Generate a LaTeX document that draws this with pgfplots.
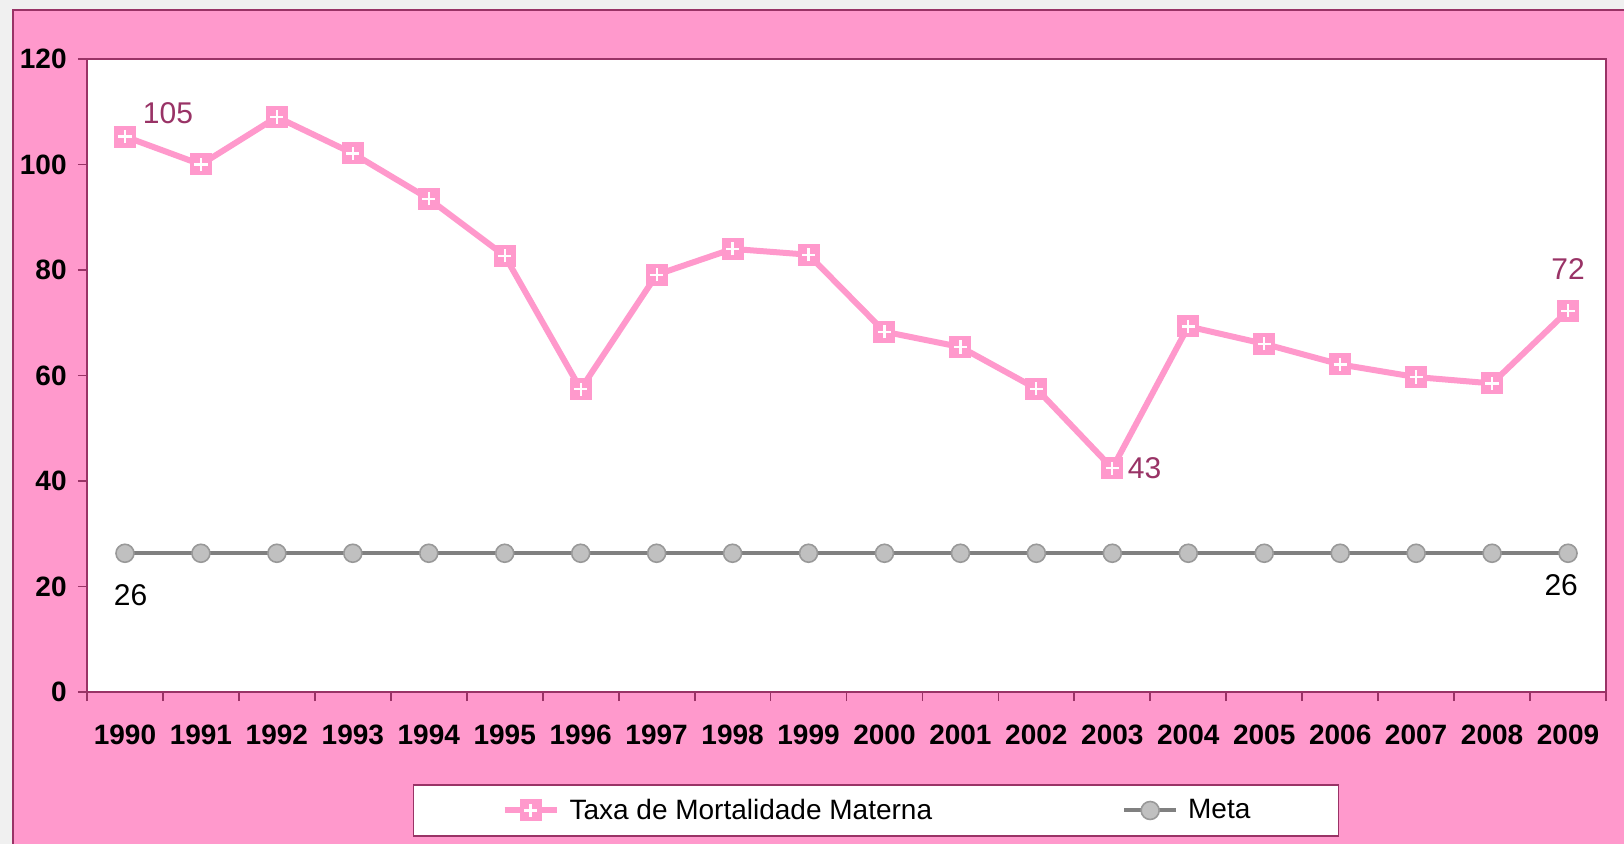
\documentclass[border=0pt]{standalone}
\usepackage{pgfplots}
\pgfplotsset{compat=1.18}
\usepackage{fontspec}
\setmainfont{Liberation Sans}
\definecolor{mpink}{HTML}{FF99CC}
\definecolor{mdark}{HTML}{993366}
\definecolor{bggray}{HTML}{F0F0F0}
\definecolor{mgrayline}{HTML}{808080}
\definecolor{mgrayfill}{HTML}{C0C0C0}
\pgfdeclareplotmark{sqplus}{%
  \pgfpathrectangle{\pgfpoint{-\pgfplotmarksize}{-\pgfplotmarksize}}{\pgfpoint{2\pgfplotmarksize}{2\pgfplotmarksize}}%
  \pgfsetfillcolor{mpink}\pgfusepath{fill}%
  \pgfsetstrokecolor{white}\pgfsetlinewidth{1.1bp}%
  \pgfpathmoveto{\pgfpoint{-0.6\pgfplotmarksize}{0pt}}\pgfpathlineto{\pgfpoint{0.6\pgfplotmarksize}{0pt}}%
  \pgfpathmoveto{\pgfpoint{0pt}{-0.6\pgfplotmarksize}}\pgfpathlineto{\pgfpoint{0pt}{0.6\pgfplotmarksize}}%
  \pgfusepath{stroke}}
\begin{document}
\begin{tikzpicture}
\useasboundingbox (-43.5bp,-76bp) rectangle (768.5bp,346bp);
\fill[bggray] (-43.5bp,-76bp) rectangle (768.5bp,346bp);
\filldraw[fill=mpink, draw=mdark, line width=1bp] (-37bp,-90bp) rectangle (790bp,341bp);
\begin{axis}[
  at={(0,0)}, anchor=south west,
  scale only axis, width=759.5bp, height=316.5bp,
  xmin=-0.5, xmax=19.5, ymin=0, ymax=120,
  axis background/.style={fill=white},
  axis line style={draw=mdark, line width=0.9bp},
  every tick/.style={draw=mdark, line width=0.9bp},
  tick align=outside, major tick length=4.5bp,
  xtick pos=bottom, ytick pos=left,
  xtick={-0.5,0.5,...,19.5}, xticklabels={},
  extra x ticks={0,1,...,19},
  extra x tick labels={1990,1991,1992,1993,1994,1995,1996,1997,1998,1999,2000,2001,2002,2003,2004,2005,2006,2007,2008,2009},
  extra x tick style={major tick length=0pt, xticklabel style={anchor=center, inner sep=0pt, yshift=-21.5bp, font=\fontsize{14bp}{16bp}\selectfont\bfseries}},
  ytick={0,20,...,120},
  /pgf/number format/assume math mode=true,
  yticklabel style={font=\fontsize{14bp}{16bp}\selectfont\bfseries, inner sep=0pt, anchor=east, xshift=-5.5bp},
  legend columns=2,
  legend style={at={(0.5194,-0.1872)}, anchor=center, draw=mdark, fill=white, line width=0.75bp,
    inner xsep=44bp, inner ysep=7bp, column sep=5bp,
    font=\fontsize{14bp}{16bp}\selectfont,
    nodes={inner sep=0pt},
    /tikz/every even column/.append style={column sep=95bp}},
  legend image code/.code={\draw[mark repeat=2, mark phase=2, #1] plot coordinates {(0bp,0bp) (13bp,0bp) (26bp,0bp)};},
  clip=false,
]
\addplot[mpink, line width=3bp, mark=sqplus, mark size=5.5bp, mark options={solid}] coordinates {
(0,105.3) (1,100.0) (2,109.0) (3,102.1) (4,93.5) (5,82.7) (6,57.4) (7,79.1) (8,84.0) (9,82.9)
(10,68.3) (11,65.4) (12,57.5) (13,42.4) (14,69.3) (15,66.0) (16,62.1) (17,59.7) (18,58.5) (19,72.3)};
\addlegendentry{Taxa de Mortalidade Materna}
\addplot[mgrayline, line width=2bp, mark=*, mark size=4.5bp, mark options={fill=mgrayfill, draw=mgrayline!80, line width=0.8bp}] coordinates {
(0,26.3) (1,26.3) (2,26.3) (3,26.3) (4,26.3) (5,26.3) (6,26.3) (7,26.3) (8,26.3) (9,26.3)
(10,26.3) (11,26.3) (12,26.3) (13,26.3) (14,26.3) (15,26.3) (16,26.3) (17,26.3) (18,26.3) (19,26.3)};
\addlegendentry{Meta}
\node[text=mdark, font=\fontsize{15bp}{17bp}\selectfont] at (axis cs:0.566,109.8) {105};
\node[text=mdark, font=\fontsize{15bp}{17bp}\selectfont] at (axis cs:13.425,42.5) {43};
\node[text=mdark, font=\fontsize{15bp}{17bp}\selectfont] at (axis cs:19,80.15) {72};
\node[text=black, font=\fontsize{15bp}{17bp}\selectfont] at (axis cs:0.074,18.3) {26};
\node[text=black, font=\fontsize{15bp}{17bp}\selectfont] at (axis cs:18.91,20.2) {26};
\end{axis}
\end{tikzpicture}
\end{document}
